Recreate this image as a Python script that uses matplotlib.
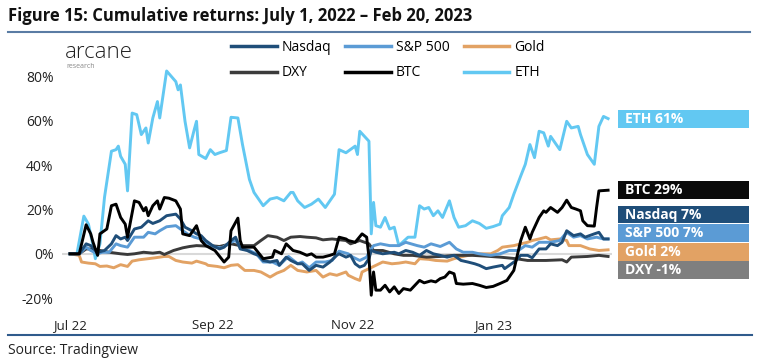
import pandas as pd
import matplotlib.pyplot as plt
import matplotlib.dates as mdates
from matplotlib.lines import Line2D
from matplotlib.patches import Rectangle
from matplotlib.ticker import FuncFormatter

plt.rcParams['font.family'] = ['Open Sans', 'DejaVu Sans']

start = pd.Timestamp('2022-07-01')

# day offsets from July 1, 2022 and cumulative return in %
eth_days = [0, 3, 6, 8, 10, 11, 13, 15, 18, 20, 21, 22, 24, 25, 27, 29, 31, 33, 34, 36, 38, 39, 42, 46, 47, 48,
            50, 52, 54, 55, 56, 59, 61, 63, 65, 68, 70, 73, 75, 78, 80, 84, 87, 90, 93, 96, 97, 99, 102, 105,
            108, 111, 115, 117, 120, 124, 125, 126, 130, 131, 132, 133, 135, 137, 139, 141, 143, 147, 150, 152,
            154, 156, 158, 160, 162, 165, 167, 169, 172, 175, 178, 181, 184, 187, 188, 191, 193, 196, 198, 200,
            202, 204, 206, 208, 209, 213, 216, 218, 221, 222, 225, 228, 230, 232, 234]
eth = [0, 0, 17, 13.4, 3.7, -2.2, 4.5, 25.6, 46.3, 47, 48.6, 44, 40.4, 28.4, 63.5, 62.8, 53.8, 56.8, 50, 61.3,
       68.7, 61.3, 82.5, 77.7, 74, 76.2, 59.8, 47.8, 56, 59.8, 44.8, 43, 47, 44.8, 45.6, 46.6, 61.6, 61.3, 49.3,
       33.6, 27.7, 21.7, 24.7, 25.4, 23.9, 27.7, 27.7, 23.9, 20.9, 22.4, 24.7, 20.9, 26.9, 47, 45.6, 48.6, 44.8,
       55.3, 50.8, 9, 23.2, 12.7, 12, 16.4, 11.2, 12, 3.7, 7.5, 7.5, 21.7, 20.2, 20.9, 17.2, 19.4, 16.4, 23.9,
       16.4, 12, 12.7, 14.9, 13.7, 11.5, 12.3, 13.4, 17.2, 20.9, 26.9, 35.1, 40.4, 49.3, 43.4, 55.3, 54.6, 48.6,
       53, 47, 59.8, 56.8, 57.5, 53.8, 44.8, 40.4, 57.5, 62, 61]

btc_days = [0, 4, 7, 9, 10, 12, 13, 16, 18, 20, 22, 24, 25, 28, 30, 32, 33, 34, 36, 38, 39, 41, 43, 46, 48, 49,
            52, 55, 57, 59, 63, 67, 69, 70, 73, 74, 75, 80, 84, 88, 89, 92, 94, 97, 100, 103, 105, 107, 110, 113,
            115, 117, 120, 121, 124, 127, 129, 130, 131, 132, 133, 135, 137, 139, 141, 143, 145, 148, 150, 152,
            154, 157, 159, 161, 163, 165, 167, 168, 171, 175, 178, 181, 184, 187, 190, 193, 194, 196, 198, 200,
            201, 204, 206, 207, 209, 212, 214, 216, 218, 220, 222, 223, 225, 228, 229, 230, 234]
btc = [0, 0, 13.1, 9, 5.2, -0.7, 9, 11.2, 21.7, 22.4, 16.4, 13.4, 7.5, 23.9, 23.2, 19.4, 20.9, 17.2, 21.7, 23.9,
       20.2, 25.4, 25.1, 23.9, 20.2, 9, 8.2, 12.7, 6, 3.7, 1.5, -3.7, -1.5, 10.4, 16.1, 6, 3, 3, -2.2, -1.5, 1.5,
       0, 4.5, 1.5, 0.7, -0.7, 0, -1.5, -1.5, -0.7, 0, 7.5, 6.7, 6, 5.2, 9, 7.5, -1.5, -18.7, -8.2, -16.4, -16.4,
       -14.2, -17.2, -14.9, -17.9, -15.7, -16.4, -14.2, -12, -13.1, -12.2, -12.7, -11.2, -10.5, -8.2, -9, -13.4,
       -13.7, -13.4, -14.2, -15.2, -14.7, -13.4, -12, -7.5, -3, 6, 12, 6.7, 9.7, 16.4, 19.4, 18.7, 20.9, 18.7,
       20.9, 24.2, 20.9, 20.2, 19.4, 14.9, 12.7, 12.5, 20.9, 28.4, 28.7]

nasdaq_days = [0, 4, 7, 9, 11, 12, 15, 18, 20, 22, 24, 25, 28, 31, 34, 36, 39, 42, 46, 48, 50, 53, 55, 57, 59,
               62, 65, 67, 70, 72, 74, 77, 80, 82, 84, 87, 90, 91, 94, 96, 99, 101, 104, 107, 110, 113, 116, 117,
               120, 122, 124, 126, 128, 130, 131, 133, 136, 141, 143, 146, 149, 152, 155, 158, 161, 164, 167, 170,
               173, 176, 178, 181, 184, 188, 189, 192, 194, 196, 199, 201, 204, 207, 209, 212, 214, 216, 219, 222,
               224, 228, 230, 232, 234]
nasdaq = [0, 0, 4.5, 3.7, 1.5, 0.7, 1.5, 4.5, 8.2, 6.7, 7.5, 6, 11.2, 12, 14.9, 13.7, 14.9, 17.2, 17.9, 15.7, 12,
          10.4, 9, 8.2, 6, 3.7, 2.2, 3, 6, 7.5, 2.2, 1.5, 0, -0.7, -3, -3.7, -3, -5.2, -1.5, -3, -4.5, -4.5, -7.5,
          -5.2, -6, -3.7, -0.7, 0, -1.5, -0.7, -4.5, -6, -5.2, -2.2, 1.5, 0.7, 0, 0.7, 0, 1.5, 0.7, -0.7, 1.5, 0,
          -0.7, -1.5, -0.7, -3, -3.7, -4.5, -5.2, -6.7, -6, -5.2, -6.7, -4.5, -3, -0.7, -0.7, -1.8, 2.2, 2.2, 4.5,
          3.7, 5.2, 10.4, 8.2, 9, 7.5, 9, 9.7, 6.7, 6.7]

sp500_days = [0, 4, 7, 9, 12, 14, 17, 20, 22, 25, 28, 32, 34, 37, 39, 42, 46, 48, 51, 54, 57, 59, 63, 66, 70, 72,
              75, 78, 81, 84, 88, 91, 95, 99, 101, 104, 107, 111, 114, 116, 117, 121, 123, 126, 129, 130, 132,
              135, 139, 143, 146, 151, 154, 157, 161, 165, 168, 171, 175, 178, 183, 187, 191, 195, 198, 201, 204,
              209, 213, 216, 219, 222, 225, 229, 232, 234]
sp500 = [0, 0, 3, 1.5, 0, 0.7, 0.7, 4.5, 3.7, 3, 7.5, 7.5, 9.7, 9, 10.4, 12.2, 12.7, 11.2, 9, 7.5, 6.7, 5.2, 3,
         2.7, 5.2, 6, 2.2, 1.5, 0, -3.7, -3.7, -5.2, -1.2, -4.5, -3.7, -6.3, -3.7, -3.7, -3, 0, 1.2, 0, -1.5, -3,
         -1.5, 0.7, 3.7, 4.5, 3.7, 3.7, 5.2, 3.7, 3, 4.5, 3.3, 5.2, 2.2, 0.7, 0.7, 0, -0.7, 0, 1.5, 1.5, 3.7, 3,
         5.2, 5.2, 6, 9.7, 7.5, 8.2, 6.7, 7.5, 6.7, 6.7]

gold_days = [0, 4, 5, 8, 11, 13, 16, 19, 22, 25, 27, 30, 34, 37, 41, 43, 46, 49, 53, 55, 59, 60, 64, 67, 70, 73,
             76, 80, 83, 87, 90, 93, 96, 99, 103, 107, 110, 113, 116, 120, 121, 124, 126, 127, 130, 133, 136, 140,
             143, 146, 150, 152, 156, 159, 164, 167, 171, 175, 178, 183, 186, 188, 193, 196, 199, 201, 204, 207,
             209, 213, 216, 217, 222, 226, 230, 234]
gold = [0, -0.7, -3.7, -4.2, -4.5, -5.7, -5.5, -6.3, -4.9, -5.7, -3.3, -2.7, -2.2, -1.8, -1.2, -1.2, -3, -3.7,
        -4.2, -3.3, -4.5, -5.2, -5.7, -6.3, -5.2, -4.9, -7.5, -7.5, -8.2, -10.5, -8.7, -7.5, -5.2, -7.5, -8.2,
        -7.5, -10.5, -9, -9.7, -8.2, -9.7, -11.2, -12, -8.2, -6.7, -5.2, -3.7, -4.5, -4.2, -3.7, -4.5, -2.2, -2.5,
        -3, -3.3, -2.2, -1.2, -0.3, 0, 0, 1.5, 3, 3.7, 4.5, 5.2, 6, 6.7, 7.5, 6.3, 6.7, 6, 3.7, 3.7, 2.2, 1.5, 1.8]

dxy_days = [0, 4, 7, 10, 13, 17, 22, 25, 28, 32, 36, 39, 41, 45, 49, 52, 55, 59, 61, 65, 70, 74, 80, 83, 86, 90,
            93, 96, 100, 103, 107, 110, 114, 120, 122, 126, 130, 132, 136, 141, 145, 149, 155, 161, 167, 175, 180,
            187, 194, 199, 207, 214, 216, 218, 225, 230, 234]
dxy = [0, 0, 2.2, 2.2, 1.5, 0.7, 0, -0.3, 0, 0.7, 0.3, 0.7, -0.3, 1.5, 2.7, 3.3, 3.7, 3.5, 3.7, 3.3, 4.5, 3.7, 3.7,
       6, 8.2, 7.5, 6, 7.5, 7.8, 7.5, 7.2, 6.3, 6.7, 6, 4.5, 6, 4.5, 1.5, 1.5, 0, -0.7, -0.7, -1.5, -1.2, -0.7,
       -0.7, -1, -1.5, -2.2, -3, -3, -2.7, -3.7, -1.5, -1.2, -0.7, -1.2]

names = ['Nasdaq', 'S&P 500', 'Gold', 'DXY', 'BTC', 'ETH']
series_days = [nasdaq_days, sp500_days, gold_days, dxy_days, btc_days, eth_days]
series_vals = [nasdaq, sp500, gold, dxy, btc, eth]
line_colors = ['#1f4e79', '#5b9bd5', '#e2a264', '#3b3b3b', '#000000', '#62c8f2']
box_colors = ['#1f4e79', '#5b9bd5', '#e2a264', '#7f7f7f', '#0a0a0a', '#62c8f2']

W, H = 763, 363
fig = plt.figure(figsize=(W / 100, H / 100), dpi=100)
ax = fig.add_axes([62 / W, 1 - 305 / H, 550 / W, 240 / H])

lines = {}
for name, d, v, c in zip(names, series_days, series_vals, line_colors):
    dates = start + pd.to_timedelta(d, unit='D')
    ln, = ax.plot(dates, v, color=c, lw=2.1, label=name, solid_joinstyle='round')
    lines[name] = ln
# draw order: ETH at the back, BTC on top
for z, name in enumerate(['ETH', 'Gold', 'DXY', 'S&P 500', 'Nasdaq', 'BTC']):
    lines[name].set_zorder(3 + z)

ax.axhline(0, color='#d9d9d9', lw=1.5, zorder=2)
ax.set_xlim(start - pd.Timedelta(days=3.5), start + pd.Timedelta(days=235.7))
ax.set_ylim(-23.1, 85.2)
ax.set_yticks([-20, 0, 20, 40, 60, 80])
ax.yaxis.set_major_formatter(FuncFormatter(lambda v, p: f'{v:.0f}%'))
ax.set_xticks([pd.Timestamp('2022-07-01'), pd.Timestamp('2022-09-01'),
               pd.Timestamp('2022-11-01'), pd.Timestamp('2023-01-01')])
ax.xaxis.set_major_formatter(mdates.DateFormatter('%b %y'))
ax.tick_params(axis='both', length=0, labelsize=10, colors='#222222')
ax.tick_params(axis='x', pad=10, labelsize=9.5)
ax.tick_params(axis='y', pad=6)
for s in ax.spines.values():
    s.set_visible(False)

# title and rules
fig.text(8 / W, 1 - 16 / H, 'Figure 15: Cumulative returns: July 1, 2022 \u2013 Feb 20, 2023',
         fontsize=12, fontweight='bold', color='#111111', va='center', ha='left')
fig.add_artist(Line2D([8 / W, 750 / W], [1 - 32 / H] * 2, color='#5a7ca4', lw=1.5))
fig.add_artist(Line2D([8 / W, 752 / W], [1 - 335 / H] * 2, color='#2f5b8c', lw=1.5))
fig.text(8 / W, 1 - 350 / H, 'Source: Tradingview', fontsize=10, color='#222222', va='center', ha='left')

# logo
fig.text(65 / W, 1 - 52 / H, 'arcane', fontsize=16, color='#222222', fontweight='light', va='center', ha='left')
fig.text(66 / W, 1 - 66 / H, 'research', fontsize=5, color='#888888', va='center', ha='left')

# legend
order = ['Nasdaq', 'DXY', 'S&P 500', 'BTC', 'Gold', 'ETH']
handles = [Line2D([], [], color=lines[n].get_color(), lw=2.5) for n in order]
fig.legend(handles, order, ncol=3, loc='upper left', bbox_to_anchor=(231 / W, 1 - 40 / H),
           frameon=False, fontsize=10, handlelength=3.3, handletextpad=0.35, columnspacing=1.0,
           labelspacing=0.75, borderpad=0, borderaxespad=0)

# end labels
box_tops = {'ETH': 110, 'BTC': 181, 'Nasdaq': 206, 'S&P 500': 224, 'Gold': 243, 'DXY': 261}
for name, v, bc in zip(names, series_vals, box_colors):
    top = box_tops[name]
    fig.add_artist(Rectangle((618 / W, 1 - (top + 17.5) / H), 131 / W, 17.5 / H,
                             transform=fig.transFigure, facecolor=bc, edgecolor='none'))
    fig.text(625 / W, 1 - (top + 9) / H, f'{name} {round(v[-1])}%', color='white',
             fontsize=10, fontweight='bold', va='center', ha='left')

fig.savefig('out.png', dpi=100)
